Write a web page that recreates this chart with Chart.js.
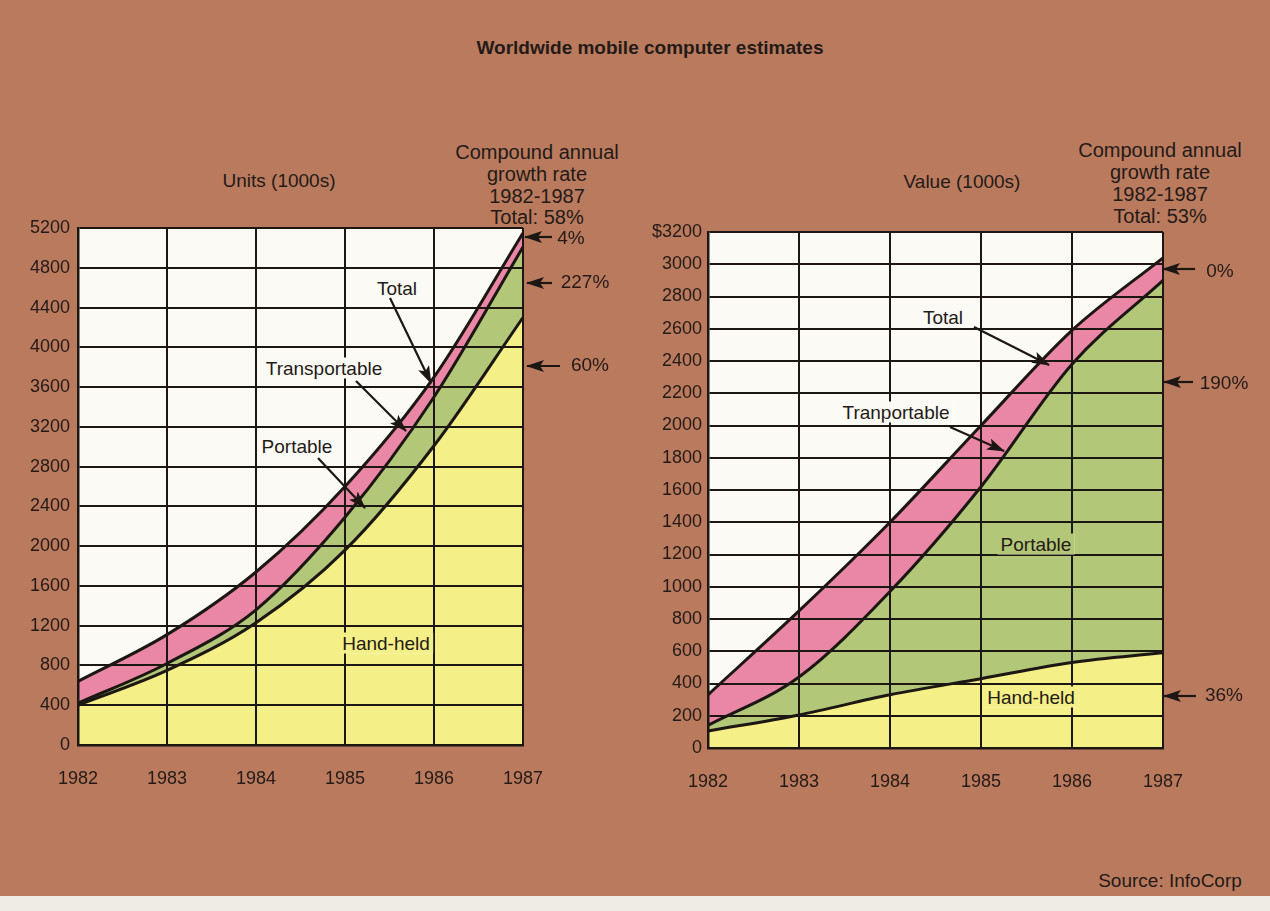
<!DOCTYPE html>
<html lang="en">
<head>
<meta charset="UTF-8">
<title>Worldwide mobile computer estimates</title>
<style>
  body { margin: 0; width: 1270px; height: 911px; background: #ba7a5e; position: relative; overflow: hidden;
         font-family: 'Liberation Sans', Arial, sans-serif; color: #241a17; }
  .t { position: absolute; transform: translate(-50%, -50%); white-space: nowrap; font-size: 19px; line-height: 1; }
  .cg { font-size: 20px; }
  .lab { padding: 1px 3px; }
  .box { position: absolute; }
  #strip { position: absolute; left: 0; top: 896px; width: 1270px; height: 15px; background: #efece6; }
  svg { position: absolute; left: 0; top: 0; pointer-events: none; }
</style>
</head>
<body>

<div class="t" style="left:650px; top:47px; font-weight:bold;">Worldwide mobile computer estimates</div>

<div class="t" style="left:279px; top:180px;">Units (1000s)</div>
<div class="t cg" style="left:537px; top:152px;">Compound annual</div>
<div class="t cg" style="left:537px; top:174px;">growth rate</div>
<div class="t cg" style="left:537px; top:196px;">1982-1987</div>
<div class="t cg" style="left:537px; top:217px;">Total: 58%</div>

<div class="t" style="left:962px; top:181px;">Value (1000s)</div>
<div class="t cg" style="left:1160px; top:150px;">Compound annual</div>
<div class="t cg" style="left:1160px; top:172px;">growth rate</div>
<div class="t cg" style="left:1160px; top:194px;">1982-1987</div>
<div class="t cg" style="left:1160px; top:216px;">Total: 53%</div>

<div class="box" style="left:0px; top:200px;"><canvas id="unitsChart" width="600" height="620"></canvas></div>
<div class="box" style="left:620px; top:200px;"><canvas id="valueChart" width="640" height="620"></canvas></div>

<!-- labels inside the plots -->
<div class="t lab" style="left:397px; top:288px; background:#fbfaf4;">Total</div>
<div class="t lab" style="left:324px; top:368px; background:#fbfaf4;">Transportable</div>
<div class="t lab" style="left:297px; top:446px; background:#fbfaf4;">Portable</div>
<div class="t lab" style="left:386px; top:643px; background:#f4ef86;">Hand-held</div>
<div class="t" style="left:571px; top:237px;">4%</div>
<div class="t" style="left:585px; top:281px;">227%</div>
<div class="t" style="left:590px; top:364px;">60%</div>

<div class="t lab" style="left:943px; top:317px; background:#fbfaf4;">Total</div>
<div class="t lab" style="left:896px; top:412px; background:#fbfaf4;">Tranportable</div>
<div class="t lab" style="left:1036px; top:544px; background:#b3c779;">Portable</div>
<div class="t lab" style="left:1031px; top:697px; background:#f4ef86;">Hand-held</div>
<div class="t" style="left:1220px; top:270px;">0%</div>
<div class="t" style="left:1224px; top:382px;">190%</div>
<div class="t" style="left:1224px; top:694px;">36%</div>

<div class="t" style="left:1170px; top:880px;">Source: InfoCorp</div>
<div id="strip"></div>

<svg width="1270" height="911">
  <defs>
    <marker id="ah" viewBox="0 0 18 12" refX="17" refY="6" markerWidth="18" markerHeight="12"
            markerUnits="userSpaceOnUse" orient="auto">
      <path d="M0,0 L18,6 L0,12 L4,6 z" fill="#1d1714"/>
    </marker>
  </defs>
  <g stroke="#1d1714" stroke-width="2.2" marker-end="url(#ah)">
    <line x1="390" y1="298" x2="431" y2="383"/>
    <line x1="356" y1="381" x2="406" y2="431"/>
    <line x1="318" y1="458" x2="365" y2="508"/>
    <line x1="552" y1="237" x2="525" y2="237"/>
    <line x1="552" y1="283" x2="527" y2="283"/>
    <line x1="560" y1="366" x2="527" y2="366"/>
    <line x1="974" y1="327" x2="1049" y2="365"/>
    <line x1="950" y1="427" x2="1004" y2="451"/>
    <line x1="1195" y1="269" x2="1163" y2="269"/>
    <line x1="1193" y1="382" x2="1164" y2="382"/>
    <line x1="1196" y1="696" x2="1164" y2="696"/>
  </g>
</svg>

<script src="https://cdn.jsdelivr.net/npm/chart.js"></script>
<script>
  // years on the x axis
  const years = ['1982', '1983', '1984', '1985', '1986', '1987'];

  // Units (1000s) - each layer on its own, stacked by the chart
  const unitsHandHeld = [400, 750, 1230, 1960, 3010, 4300];
  const unitsPortable = [20, 70, 130, 330, 490, 710];
  const unitsTransportable = [220, 290, 380, 310, 200, 140];
  const unitsMax = 5200;
  const unitsStep = 400;

  // Value ($1000s)
  const valueHandHeld = [105, 205, 330, 430, 530, 590];
  const valuePortable = [35, 235, 640, 1190, 1850, 2310];
  const valueTransportable = [190, 410, 430, 380, 210, 140];
  const valueMax = 3200;
  const valueStep = 200;

  const ink = '#1d1714';
  const yellow = '#f4ef86';
  const green = '#b3c779';
  const pink = '#ea86a6';
  const font = { family: "'Liberation Sans', Arial, sans-serif", size: 18 };

  // white paper behind the grid
  const plotBg = {
    id: 'plotBg',
    beforeDraw(chart) {
      const { ctx, chartArea: a } = chart;
      ctx.save();
      ctx.fillStyle = '#fbfaf4';
      ctx.fillRect(a.left, a.top, a.right - a.left, a.bottom - a.top);
      ctx.restore();
    }
  };

  function layer(label, data, fill, color) {
    return {
      label: label,
      data: data,
      fill: fill,
      backgroundColor: color,
      borderColor: ink,
      borderWidth: 3,
      pointRadius: 0,
      cubicInterpolationMode: 'monotone'
    };
  }

  function makeChart(id, hand, port, trans, yMax, yStep, dollar, yWidth, yPad, xHeight, padTop, padRight) {
    return new Chart(document.getElementById(id), {
      type: 'line',
      data: {
        labels: years,
        datasets: [
          layer('Hand-held', hand, 'origin', yellow),
          layer('Portable', port, '-1', green),
          layer('Transportable', trans, '-1', pink)
        ]
      },
      plugins: [plotBg],
      options: {
        responsive: false,
        animation: false,
        layout: { padding: { top: padTop, right: padRight, left: 0, bottom: 0 } },
        plugins: { legend: { display: false }, tooltip: { enabled: false } },
        scales: {
          x: {
            offset: false,
            grid: { color: ink, lineWidth: 2, drawTicks: false, z: 1 },
            border: { color: ink, width: 2.5, z: 2 },
            ticks: { color: '#241a17', font: font, padding: 23, maxRotation: 0, autoSkip: false },
            afterFit(s) { s.height = xHeight; }
          },
          y: {
            stacked: true,
            min: 0,
            max: yMax,
            grid: { color: ink, lineWidth: 2, drawTicks: false, z: 1 },
            border: { color: ink, width: 2.5, z: 2 },
            ticks: {
              stepSize: yStep,
              color: '#241a17',
              font: font,
              padding: yPad,
              callback: (v) => (dollar && v === yMax ? '$' + v : v)
            },
            afterFit(s) { s.width = yWidth; }
          }
        }
      }
    });
  }

  makeChart('unitsChart', unitsHandHeld, unitsPortable, unitsTransportable,
            unitsMax, unitsStep, false, 78, 8, 75, 28, 77);
  makeChart('valueChart', valueHandHeld, valuePortable, valueTransportable,
            valueMax, valueStep, true, 88, 6, 72, 32, 97);
</script>
</body>
</html>
